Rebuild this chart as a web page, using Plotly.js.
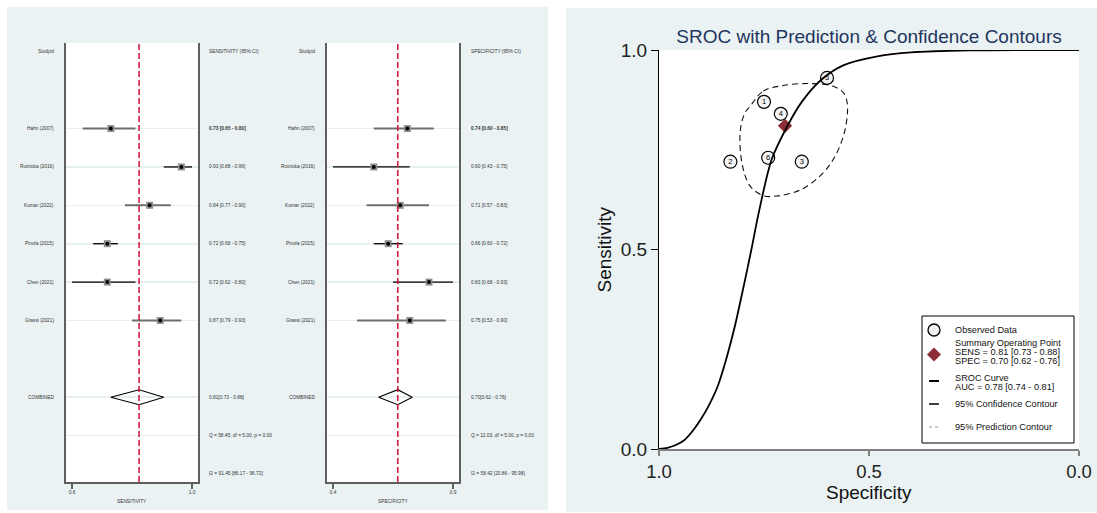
<!DOCTYPE html>
<html>
<head>
<meta charset="utf-8">
<script src="https://cdn.plot.ly/plotly-3.0.1.min.js"></script>
<style>
html,body{margin:0;padding:0;background:#ffffff;overflow:hidden}
#chart{width:1097px;height:513px}
</style>
</head>
<body>
<div id="chart"></div>
<script>
// ---------------- DATA ----------------
const studies = ['Hahn (2007)', 'Rutnicka (2016)', 'Kumar (2022)', 'Pinola (2015)', 'Chen (2021)', 'Grassi (2021)'];
const studyNumber = [6, 5, 4, 3, 2, 1];

const sens   = [0.73, 0.93, 0.84, 0.72, 0.72, 0.87];
const sensLo = [0.65, 0.88, 0.77, 0.68, 0.62, 0.79];
const sensHi = [0.80, 0.96, 0.90, 0.75, 0.80, 0.93];

const spec   = [0.74, 0.60, 0.71, 0.66, 0.83, 0.75];
const specLo = [0.60, 0.43, 0.57, 0.60, 0.68, 0.53];
const specHi = [0.85, 0.75, 0.83, 0.72, 0.93, 0.90];

const summarySens = [0.81, 0.73, 0.88];   // estimate, lower, upper
const summarySpec = [0.70, 0.62, 0.76];
const sensQ  = [58.45, 5.00, 0.00];        // Q, df, p
const specQ  = [12.03, 5.00, 0.03];
const sensI2 = [91.45, 86.17, 96.72];      // I2, lower, upper
const specI2 = [58.42, 20.86, 95.98];
const auc    = [0.78, 0.74, 0.81];

// SROC curve (specificity, sensitivity)
const srocSpec = [1.00, 0.98, 0.96, 0.94, 0.92, 0.90, 0.88, 0.86, 0.84, 0.82, 0.80, 0.78, 0.763, 0.732, 0.693, 0.66, 0.613, 0.56, 0.48, 0.40, 0.26, 0.00];
const srocSens = [0.00, 0.003, 0.01, 0.022, 0.045, 0.075, 0.112, 0.158, 0.225, 0.305, 0.40, 0.50, 0.59, 0.725, 0.812, 0.87, 0.926, 0.962, 0.984, 0.994, 0.999, 1.00];

// 95% confidence contour
const contourSpec = [0.783, 0.752, 0.704, 0.641, 0.585, 0.561, 0.552, 0.552, 0.561, 0.585, 0.617, 0.664, 0.720, 0.752, 0.783, 0.799, 0.807, 0.805, 0.795, 0.783];
const contourSens = [0.859, 0.897, 0.911, 0.916, 0.909, 0.893, 0.868, 0.834, 0.784, 0.726, 0.684, 0.649, 0.634, 0.635, 0.659, 0.700, 0.759, 0.809, 0.843, 0.859];

const srocTicks = [0, 0.5, 1];

// ---------------- STYLE ----------------
const ciColors = ['#6e6e6e', '#000000', '#6e6e6e', '#000000', '#000000', '#6e6e6e'];
const ciWidths = [2, 1.3, 2, 1.3, 1.3, 2];
const W = 1097, H = 513;
const px = v => v / W;
const py = v => 1 - v / H;
const SANS = '"Liberation Sans", Arial, Helvetica, sans-serif';
const PANEL = '#eaf2f3';
const RED = '#8c2d35';
const FOREST_FONT_SIZE = 4.8;
const f2 = v => v.toFixed(2);

const traces = [];
const annotations = [];
const shapes = [];
const layout = {
  width: W, height: H,
  margin: {l: 0, r: 0, t: 0, b: 0, pad: 0},
  paper_bgcolor: '#ffffff',
  plot_bgcolor: '#ffffff',
  showlegend: false,
  shapes: shapes,
  annotations: annotations
};

// panel backgrounds
shapes.push({type: 'rect', xref: 'paper', yref: 'paper', x0: px(7), x1: px(548), y0: py(510), y1: py(7),
  fillcolor: PANEL, line: {width: 0}, layer: 'below'});
shapes.push({type: 'rect', xref: 'paper', yref: 'paper', x0: px(566), x1: 1, y0: py(512), y1: py(8),
  fillcolor: PANEL, line: {width: 0}, layer: 'below'});

// ---------------- FOREST PLOTS ----------------
function forest(k, est, lo, hi, summary, q, i2, header, title, domX, leftX, rightX) {
  const xa = 'x' + k, ya = 'y' + k;
  const n = est.length;
  const rows = est.map((_, i) => i + 2);
  const combinedRow = n + 3, qRow = n + 4, i2Row = n + 5;
  const tmin = Math.min(...lo), tmax = Math.max(...hi);
  const span = tmax - tmin;
  const tf = {family: SANS, size: FOREST_FONT_SIZE, color: '#333'};

  layout['xaxis' + k] = {
    domain: domX, anchor: ya, range: [tmin - 0.05 * span, tmax + 0.05 * span],
    showline: true, linecolor: '#5f5f5f', linewidth: 1.6,
    ticks: 'outside', ticklen: 5, tickwidth: 1.2, tickcolor: '#5f5f5f',
    tickvals: [tmin, tmax], ticktext: [tmin.toFixed(1), tmax.toFixed(1)],
    tickfont: tf,
    showgrid: false, zeroline: false, fixedrange: true
  };
  layout['yaxis' + k] = {
    domain: [py(482), py(43)], anchor: xa, range: [i2Row + 0.21, -0.23],
    showline: true, mirror: true, linecolor: '#5f5f5f', linewidth: 1.6,
    tickvals: rows.concat([combinedRow, qRow]), showticklabels: false, ticks: '',
    showgrid: true, gridcolor: '#e6eff1', gridwidth: 1.6, zeroline: false, fixedrange: true
  };

  shapes.push({type: 'rect', xref: xa + ' domain', yref: ya + ' domain', x0: 0, x1: 1, y0: 0, y1: 1,
    fillcolor: '#ffffff', line: {width: 0}, layer: 'below'});

  // CI lines
  est.forEach((v, i) => {
    traces.push({x: [lo[i], hi[i]], y: [rows[i], rows[i]], xaxis: xa, yaxis: ya, mode: 'lines',
      line: {color: ciColors[i], width: ciWidths[i]}, hoverinfo: 'skip'});
  });
  // grey boxes + black dot
  traces.push({x: est, y: rows, xaxis: xa, yaxis: ya, mode: 'markers',
    marker: {symbol: 'square', size: 7, color: '#8e8e8e', line: {width: 0}}, hoverinfo: 'skip'});
  traces.push({x: est, y: rows, xaxis: xa, yaxis: ya, mode: 'markers',
    marker: {symbol: 'circle', size: 4, color: '#000000', line: {width: 0}}, hoverinfo: 'skip'});
  // summary diamond
  const h = 0.195;
  traces.push({x: [summary[1], summary[0], summary[2], summary[0], summary[1]],
    y: [combinedRow, combinedRow - h, combinedRow, combinedRow + h, combinedRow],
    xaxis: xa, yaxis: ya, mode: 'lines', line: {color: '#000', width: 1.1}, hoverinfo: 'skip'});
  // red dashed summary line
  shapes.push({type: 'line', xref: xa, yref: ya + ' domain', x0: summary[0], x1: summary[0], y0: 0, y1: 1,
    line: {color: '#cc1236', width: 1.5, dash: '6px,3px'}, layer: 'above'});

  const addLeft = (txt, row) => annotations.push({xref: 'paper', yref: ya, x: px(leftX), y: row, text: txt,
    showarrow: false, xanchor: 'right', yanchor: 'middle', font: tf});
  const addRight = (txt, row) => annotations.push({xref: 'paper', yref: ya, x: px(rightX), y: row, text: txt,
    showarrow: false, xanchor: 'left', yanchor: 'middle', font: tf});

  addLeft('Studyid', 0);
  addRight(header, 0);
  est.forEach((v, i) => {
    addLeft(studies[i], rows[i]);
    const s = `${f2(v)} [${f2(lo[i])} - ${f2(hi[i])}]`;
    addRight(i === 0 ? '<b>' + s + '</b>' : s, rows[i]);
  });
  addLeft('COMBINED', combinedRow);
  addRight(`${f2(summary[0])}[${f2(summary[1])} - ${f2(summary[2])}]`, combinedRow);
  addRight(`Q = ${f2(q[0])}, df = ${f2(q[1])}, p = ${f2(q[2])}`, qRow);
  addRight(`I2 = ${f2(i2[0])} [${f2(i2[1])} - ${f2(i2[2])}]`, i2Row);

  annotations.push({xref: xa + ' domain', yref: 'paper', x: 0.5, y: py(501), text: title, showarrow: false,
    xanchor: 'center', yanchor: 'middle', font: tf});
}

forest('', sens, sensLo, sensHi, summarySens, sensQ, sensI2, 'SENSITIVITY (95% CI)', 'SENSITIVITY',
  [px(66), px(198)], 56, 207);
forest('2', spec, specLo, specHi, summarySpec, specQ, specI2, 'SPECIFICITY (95% CI)', 'SPECIFICITY',
  [px(327), px(459)], 317, 469);

// ---------------- SROC ----------------
layout.xaxis3 = {
  domain: [px(659), px(1079)], anchor: 'y3', range: [1, 0],
  showline: true, linecolor: '#808080', linewidth: 2,
  ticks: 'outside', ticklen: 5, tickwidth: 1.5, tickcolor: '#808080',
  tickvals: srocTicks, tickformat: '.1f',
  tickfont: {family: SANS, size: 18.5, color: '#222'},
  showgrid: false, zeroline: false, fixedrange: true
};
layout.yaxis3 = {
  domain: [py(449), py(50)], anchor: 'x3', range: [0, 1],
  showline: true, linecolor: '#000000', linewidth: 1,
  ticks: 'outside', ticklen: 7, tickwidth: 1, tickcolor: '#000',
  tickvals: srocTicks, tickformat: '.1f',
  tickfont: {family: SANS, size: 19, color: '#222'},
  showgrid: false, zeroline: false, fixedrange: true
};
shapes.push({type: 'rect', xref: 'x3 domain', yref: 'y3 domain', x0: 0, x1: 1, y0: 0, y1: 1,
  fillcolor: '#ffffff', line: {width: 0}, layer: 'below'});

traces.push({x: contourSpec, y: contourSens, xaxis: 'x3', yaxis: 'y3', mode: 'lines',
  line: {color: '#111', width: 1.1, dash: '6px,4px', shape: 'spline', smoothing: 1}, hoverinfo: 'skip'});
traces.push({x: [summarySpec[0]], y: [summarySens[0]], xaxis: 'x3', yaxis: 'y3', mode: 'markers',
  marker: {symbol: 'diamond', size: 11, color: RED, line: {width: 0}}, hoverinfo: 'skip'});
traces.push({x: spec, y: sens, xaxis: 'x3', yaxis: 'y3', mode: 'markers+text', text: studyNumber.map(String),
  textposition: 'middle center', textfont: {family: SANS, size: 7.5, color: '#000'}, cliponaxis: false,
  marker: {symbol: 'circle', size: 13, color: '#f4f4f4', line: {color: '#000', width: 1.2}}, hoverinfo: 'skip'});
traces.push({x: srocSpec, y: srocSens, xaxis: 'x3', yaxis: 'y3', mode: 'lines',
  line: {color: '#000', width: 1.8, shape: 'spline', smoothing: 0.8}, hoverinfo: 'skip'});

layout.title = {
  text: 'SROC with Prediction & Confidence Contours',
  font: {family: SANS, size: 19, color: '#1f3560'},
  xref: 'paper', yref: 'paper', x: px(869), xanchor: 'center', y: py(36), yanchor: 'middle'
};
annotations.push({xref: 'paper', yref: 'y3 domain', x: px(604), y: 0.5, text: 'Sensitivity', textangle: -90,
  showarrow: false, xanchor: 'center', yanchor: 'middle', font: {family: SANS, size: 19, color: '#111'}});
annotations.push({xref: 'x3 domain', yref: 'paper', x: 0.5, y: py(492), text: 'Specificity',
  showarrow: false, xanchor: 'center', yanchor: 'middle', font: {family: SANS, size: 19, color: '#111'}});

// ---------------- LEGEND (drawn manually) ----------------
shapes.push({type: 'rect', xref: 'paper', yref: 'paper', x0: px(922), x1: px(1074), y0: py(443), y1: py(316),
  fillcolor: '#ffffff', line: {color: '#000', width: 1}, layer: 'above'});
shapes.push({type: 'circle', xref: 'paper', yref: 'paper', x0: px(928), x1: px(940), y0: py(336), y1: py(324),
  fillcolor: '#f0f0f0', line: {color: '#000', width: 1.3}, layer: 'above'});
shapes.push({type: 'path', xref: 'paper', yref: 'paper',
  path: `M ${px(934)} ${py(347.5)} L ${px(941)} ${py(354.5)} L ${px(934)} ${py(361.5)} L ${px(927)} ${py(354.5)} Z`,
  fillcolor: RED, line: {width: 0}, layer: 'above'});
shapes.push({type: 'line', xref: 'paper', yref: 'paper', x0: px(929), x1: px(939), y0: py(381), y1: py(381),
  line: {color: '#000', width: 2}, layer: 'above'});
shapes.push({type: 'line', xref: 'paper', yref: 'paper', x0: px(929), x1: px(939), y0: py(404), y1: py(404),
  line: {color: '#000', width: 1.5}, layer: 'above'});
shapes.push({type: 'line', xref: 'paper', yref: 'paper', x0: px(929), x1: px(939), y0: py(427), y1: py(427),
  line: {color: '#999', width: 1, dash: 'dot'}, layer: 'above'});

const legendLines = [
  ['Observed Data', 330],
  ['Summary Operating Point', 343],
  [`SENS = ${f2(summarySens[0])} [${f2(summarySens[1])} - ${f2(summarySens[2])}]`, 352],
  [`SPEC = ${f2(summarySpec[0])} [${f2(summarySpec[1])} - ${f2(summarySpec[2])}]`, 361],
  ['SROC Curve', 377.5],
  [`AUC = ${f2(auc[0])} [${f2(auc[1])} - ${f2(auc[2])}]`, 386.5],
  ['95% Confidence Contour', 404],
  ['95% Prediction Contour', 426.5]
];
legendLines.forEach(([t, y]) => annotations.push({xref: 'paper', yref: 'paper', x: px(953), y: py(y), text: t,
  showarrow: false, xanchor: 'left', yanchor: 'middle', font: {family: SANS, size: 9.2, color: '#111'}}));

Plotly.newPlot('chart', traces, layout, {staticPlot: true, displayModeBar: false});
</script>
</body>
</html>
